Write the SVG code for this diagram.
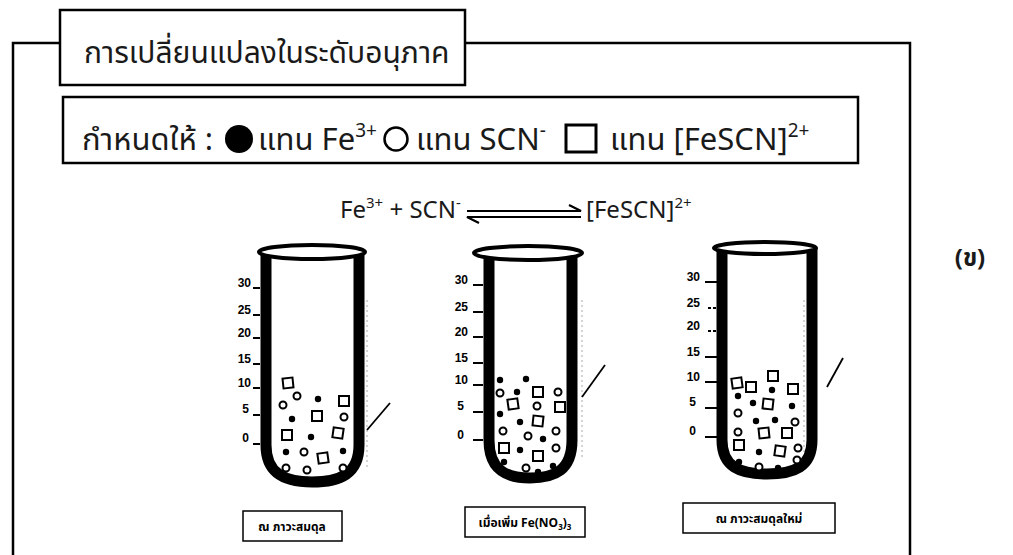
<svg xmlns="http://www.w3.org/2000/svg" xmlns:xlink="http://www.w3.org/1999/xlink" width="1013" height="555" viewBox="0 0 1013 555">
  <style>
    .frame { fill: none; stroke: #000; stroke-width: 2.5; }
    .box { fill: #fff; stroke: #000; stroke-width: 2.5; }
    .thai { font-family: "Noto Sans Thai", "Noto Sans", "DejaVu Sans", sans-serif; fill: #1a1a1a; }
    .lat { font-family: "Noto Sans", "Open Sans", "Liberation Sans", sans-serif; fill: #1a1a1a; }
    .tube { fill: none; stroke: #000; stroke-width: 11; stroke-linejoin: round; }
    .rim { fill: #fff; stroke: #000; stroke-width: 4; }
    .tick { stroke: #000; stroke-width: 2; }
    .num { font-family: "Liberation Sans", "DejaVu Sans", sans-serif; font-weight: bold; font-size: 12px; fill: #000; text-anchor: end; }
    .ptr { stroke: #000; stroke-width: 1.8; fill: none; }
    .glint { stroke: #aaa; stroke-width: 1; stroke-dasharray: 2 3; fill: none; }
    .lbl { fill: #fff; stroke: #000; stroke-width: 1.5; }
    .lbltxt { font-family: "Noto Sans Thai", "Noto Sans", "DejaVu Sans", sans-serif; font-weight: bold; font-size: 12px; fill: #000; text-anchor: middle; }
    .oc { fill: #fff; stroke: #000; stroke-width: 2; }
    .fc { fill: #000; }
    .sq { fill: #fff; stroke: #000; stroke-width: 2; }
  </style>
  <defs>
    <circle id="o" r="3.5" class="oc"/>
    <circle id="f" r="3.2" class="fc"/>
    <rect id="s" x="-5" y="-5" width="10" height="10" class="sq"/>
  </defs>

  <rect width="1013" height="555" fill="#fff"/>

  <!-- outer frame, broken by the title box -->
  <g id="frame">
    <path class="frame" d="M13 555 V43 H60 M465 43 H910 V555"/>
  </g>

  <g id="title">
    <rect class="box" x="60" y="10" width="405" height="75"/>
    <text class="thai" x="84" y="63" font-size="30">การเปลี่ยนแปลงในระดับอนุภาค</text>
  </g>

  <g id="legend">
    <rect class="box" x="63" y="97" width="795" height="66"/>
    <text class="thai" x="82" y="150" font-size="31">กำหนดให้ :</text>
    <circle cx="239" cy="139" r="14" fill="#000"/>
    <text class="thai" x="258" y="150" font-size="31">แทน <tspan class="lat">Fe<tspan font-size="19" dy="-13">3+</tspan></tspan></text>
    <circle cx="396" cy="139" r="11.5" fill="none" stroke="#000" stroke-width="2.5"/>
    <text class="thai" x="416" y="150" font-size="31">แทน <tspan class="lat">SCN<tspan font-size="19" dy="-13">-</tspan></tspan></text>
    <rect x="566" y="125" width="30" height="27" fill="none" stroke="#000" stroke-width="3"/>
    <text class="thai" x="610" y="150" font-size="31">แทน <tspan class="lat">[FeSCN]<tspan font-size="19" dy="-13">2+</tspan></tspan></text>
  </g>

  <g id="equation">
    <text class="lat" x="340" y="218" font-size="24">Fe<tspan font-size="15" dy="-10">3+</tspan><tspan dy="10"> + SCN</tspan><tspan font-size="15" dy="-10">-</tspan></text>
    <path d="M467 211 H581 L569 205 M581 217 H467 L479 223" fill="none" stroke="#000" stroke-width="2.2"/>
    <text class="lat" x="586" y="218" font-size="24">[FeSCN]<tspan font-size="15" dy="-10">2+</tspan></text>
  </g>

  <!-- tube 1: at equilibrium -->
  <g id="tube1">
    <path class="glint" d="M367 300 V470"/>
    <path class="tube" d="M266 252 V445 C266 474 285 482 312 482 C340 482 359 474 359 445 V252"/>
    <ellipse class="rim" cx="312" cy="252" rx="53" ry="7"/>
    <path class="tick" d="M253 288 H260 M253 315 H260 M253 338 H260 M253 364 H260 M253 388 H260 M253 415 H260 M253 444 H260"/>
    <text class="num" x="251" y="287">30</text>
    <text class="num" x="251" y="314">25</text>
    <text class="num" x="251" y="337">20</text>
    <text class="num" x="251" y="363">15</text>
    <text class="num" x="251" y="387">10</text>
    <text class="num" x="249" y="413">5</text>
    <text class="num" x="249" y="442">0</text>
    <use href="#s" x="288" y="383" transform="rotate(-6 288 383)"/>
    <use href="#o" x="297" y="396"/>
    <use href="#f" x="318" y="399"/>
    <use href="#s" x="344" y="401"/>
    <use href="#o" x="283" y="405"/>
    <use href="#f" x="292" y="419"/>
    <use href="#s" x="317" y="416"/>
    <use href="#o" x="344" y="417"/>
    <use href="#s" x="287" y="435"/>
    <use href="#f" x="311" y="437"/>
    <use href="#s" x="338" y="433" transform="rotate(8 338 433)"/>
    <use href="#f" x="286" y="452"/>
    <use href="#o" x="304" y="452"/>
    <use href="#s" x="323" y="458" transform="rotate(-8 323 458)"/>
    <use href="#f" x="343" y="451"/>
    <use href="#o" x="286" y="468"/>
    <use href="#o" x="307" y="470"/>
    <use href="#o" x="343" y="468"/>
    <path class="ptr" d="M367 430 L390 403"/>
  </g>

  <!-- tube 2: after adding Fe(NO3)3 -->
  <g id="tube2">
    <path class="glint" d="M582 300 V460"/>
    <path class="tube" d="M489 253 V440 C489 470 506 478 530 478 C555 478 572 470 572 440 V253"/>
    <ellipse class="rim" cx="528" cy="253" rx="54" ry="7"/>
    <path class="tick" d="M473 285 H483 M473 312 H483 M473 337 H483 M473 363 H483 M473 385 H483 M473 412 H483 M473 440 H483"/>
    <text class="num" x="468" y="284">30</text>
    <text class="num" x="468" y="311">25</text>
    <text class="num" x="468" y="336">20</text>
    <text class="num" x="468" y="362">15</text>
    <text class="num" x="468" y="384">10</text>
    <text class="num" x="464" y="410">5</text>
    <text class="num" x="464" y="439">0</text>
    <use href="#f" x="500" y="380"/>
    <use href="#f" x="526" y="379"/>
    <use href="#o" x="500" y="393"/>
    <use href="#f" x="517" y="392"/>
    <use href="#s" x="538" y="392"/>
    <use href="#o" x="558" y="392"/>
    <use href="#s" x="513" y="404" transform="rotate(-8 513 404)"/>
    <use href="#o" x="537" y="406"/>
    <use href="#s" x="560" y="407"/>
    <use href="#f" x="500" y="414"/>
    <use href="#f" x="520" y="422"/>
    <use href="#s" x="538" y="421" transform="rotate(6 538 421)"/>
    <use href="#o" x="503" y="431"/>
    <use href="#o" x="528" y="436"/>
    <use href="#f" x="543" y="439"/>
    <use href="#o" x="556" y="431"/>
    <use href="#s" x="504" y="448"/>
    <use href="#f" x="520" y="450"/>
    <use href="#s" x="538" y="456"/>
    <use href="#o" x="556" y="448"/>
    <use href="#f" x="504" y="462"/>
    <use href="#o" x="526" y="468"/>
    <use href="#f" x="538" y="472"/>
    <use href="#f" x="553" y="466"/>
    <path class="ptr" d="M582 397 L605 365"/>
  </g>

  <!-- tube 3: new equilibrium -->
  <g id="tube3">
    <path class="glint" d="M804 300 V460"/>
    <path class="tube" d="M722 248 V440 C722 467 740 474 767 474 C794 474 812 467 812 440 V248"/>
    <ellipse class="rim" cx="765" cy="248" rx="51" ry="6"/>
    <path class="tick" d="M705 282 H717 M708 308 H711 M713 308 H716 M708 331 H711 M713 331 H716 M705 357 H717 M705 382 H717 M705 408 H717 M705 437 H717"/>
    <text class="num" x="700" y="281">30</text>
    <text class="num" x="700" y="307">25</text>
    <text class="num" x="700" y="330">20</text>
    <text class="num" x="700" y="356">15</text>
    <text class="num" x="700" y="381">10</text>
    <text class="num" x="696" y="406">5</text>
    <text class="num" x="696" y="435">0</text>
    <use href="#s" x="737" y="383" transform="rotate(-8 737 383)"/>
    <use href="#s" x="751" y="387"/>
    <use href="#s" x="773" y="376"/>
    <use href="#f" x="772" y="390"/>
    <use href="#s" x="793" y="389"/>
    <use href="#f" x="738" y="396"/>
    <use href="#f" x="753" y="403"/>
    <use href="#s" x="768" y="404" transform="rotate(6 768 404)"/>
    <use href="#f" x="792" y="406"/>
    <use href="#o" x="738" y="413"/>
    <use href="#f" x="756" y="421"/>
    <use href="#f" x="775" y="420"/>
    <use href="#o" x="795" y="422"/>
    <use href="#o" x="738" y="432"/>
    <use href="#s" x="764" y="433" transform="rotate(-6 764 433)"/>
    <use href="#s" x="787" y="433"/>
    <use href="#s" x="739" y="445"/>
    <use href="#f" x="759" y="452"/>
    <use href="#s" x="780" y="451" transform="rotate(8 780 451)"/>
    <use href="#o" x="798" y="448"/>
    <use href="#f" x="739" y="462"/>
    <use href="#o" x="759" y="467"/>
    <use href="#f" x="778" y="468"/>
    <use href="#o" x="797" y="460"/>
    <path class="ptr" d="M827 387 L843 358"/>
  </g>

  <g id="label1">
    <rect class="lbl" x="243" y="511" width="99" height="30"/>
    <text class="lbltxt" x="292" y="531">ณ ภาวะสมดุล</text>
  </g>
  <g id="label2">
    <rect class="lbl" x="465" y="507" width="120" height="30"/>
    <text class="lbltxt" x="525" y="527">เมื่อเพิ่ม Fe(NO<tspan font-size="8" dy="3">3</tspan><tspan dy="-3">)</tspan><tspan font-size="8" dy="3">3</tspan></text>
  </g>
  <g id="label3">
    <rect class="lbl" x="683" y="503" width="152" height="30"/>
    <text class="lbltxt" x="759" y="523">ณ ภาวะสมดุลใหม่</text>
  </g>

  <g id="part">
    <text class="thai" x="970" y="266" font-size="24" font-weight="bold" text-anchor="middle">(ข)</text>
  </g>
</svg>
